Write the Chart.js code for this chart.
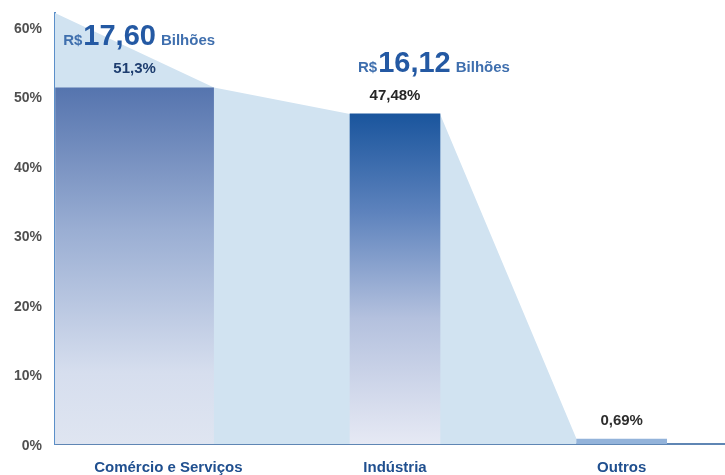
<!DOCTYPE html>
<html>
<head>
<meta charset="utf-8">
<script src="https://cdn.jsdelivr.net/npm/chart.js@4"></script>
<style>
  html, body { margin: 0; padding: 0; background: #fff; }
  #wrap { width: 725px; height: 475px; }
</style>
</head>
<body>
<div id="wrap"><canvas id="myChart" width="725" height="475"></canvas></div>
<script>
// data
const categories = ['Comércio e Serviços', 'Indústria', 'Outros'];
const shares = [51.3, 47.48, 0.69];          // % of total
const amounts = ['17,60', '16,12', null];    // R$ bilhões
const yTicks = [0, 10, 20, 30, 40, 50, 60];
const yMax = 62;

const FONT = "'Liberation Sans', Arial, Helvetica, sans-serif";

function pctText(v) {
    return v.toString().replace('.', ',') + '%';
}

function barGradient(ctx, stops) {
    const chart = ctx.chart;
    if (!chart.chartArea) return stops[0][1];
    const y = chart.scales.y;
    const top = y.getPixelForValue(shares[ctx.dataIndex]);
    const g = chart.ctx.createLinearGradient(0, top, 0, y.getPixelForValue(0));
    stops.forEach(s => g.addColorStop(s[0], s[1]));
    return g;
}

const firstStops = [[0, '#5574ae'], [0.4, '#9aaed3'], [0.8, '#d6deee'], [1, '#dfe5f1']];
const secondStops = [[0, '#1a559d'], [0.3, '#5e83bd'], [0.62, '#b4c1de'], [1, '#e6e9f4']];

// the x axis runs a little past the right edge of the picture
const stretchX = {
    id: 'stretchX',
    afterLayout(chart) {
        const x = chart.scales.x;
        x.right += 10;
        x.width += 10;
        x.configure();
    }
};

// light blue shape joining the bar tops, drawn behind the bars
const areaPlugin = {
    id: 'area',
    beforeDatasetsDraw(chart) {
        const area = chart.chartArea;
        const b1 = chart.getDatasetMeta(0).data[0];
        const b2 = chart.getDatasetMeta(2).data[1];
        const b3 = chart.getDatasetMeta(2).data[2];
        if (!b1 || !b2 || !b3) return;
        const ctx = chart.ctx;
        ctx.save();
        ctx.fillStyle = '#d1e3f1';
        ctx.beginPath();
        ctx.moveTo(area.left, area.top);
        ctx.lineTo(b1.x + b1.width / 2, b1.y);
        ctx.lineTo(b2.x - b2.width / 2, b2.y);
        ctx.lineTo(b2.x + b2.width / 2, b2.y);
        ctx.lineTo(b3.x - b3.width / 2, b3.y);
        ctx.lineTo(b3.x - b3.width / 2, b3.base);
        ctx.lineTo(area.left, b1.base);
        ctx.closePath();
        ctx.fill();
        ctx.restore();
    }
};

// percent + R$ labels above the bars
const labelPlugin = {
    id: 'labels',
    afterDatasetsDraw(chart) {
        const ctx = chart.ctx;
        const bars = [
            chart.getDatasetMeta(0).data[0],
            chart.getDatasetMeta(2).data[1],
            chart.getDatasetMeta(2).data[2]
        ];
        const pctColors = ['#1d3d6f', '#262626', '#2e2e2e'];
        ctx.save();
        ctx.textBaseline = 'alphabetic';
        bars.forEach((bar, i) => {
            if (!bar) return;
            const base = bar.y - 14;
            ctx.textAlign = 'center';
            ctx.font = 'bold 15px ' + FONT;
            ctx.fillStyle = pctColors[i];
            ctx.fillText(pctText(shares[i]), bar.x, base);

            if (!amounts[i]) return;
            const y = base - 28;
            let x = bar.x - bar.width / 2 + 8;
            ctx.textAlign = 'left';
            ctx.font = 'bold 15px ' + FONT;
            ctx.fillStyle = '#3f6fae';
            ctx.fillText('R$', x, y);
            x += ctx.measureText('R$').width + 1;
            ctx.font = 'bold 29px ' + FONT;
            ctx.fillStyle = '#2459a3';
            ctx.fillText(amounts[i], x, y);
            x += ctx.measureText(amounts[i]).width + 5;
            ctx.font = 'bold 15px ' + FONT;
            ctx.fillStyle = '#3f6fae';
            ctx.fillText('Bilhões', x, y);
        });
        ctx.restore();
    }
};

new Chart(document.getElementById('myChart').getContext('2d'), {
    type: 'bar',
    data: {
        labels: categories,
        datasets: [
            {
                // first bar sits flush on the y axis: grouped with an empty
                // dataset so it takes the left half of its category
                data: shares.map((v, i) => i === 0 ? v : null),
                grouped: true,
                categoryPercentage: 0.596,
                barPercentage: 2.35,
                backgroundColor: ctx => barGradient(ctx, firstStops),
                borderWidth: 0
            },
            {
                data: categories.map(() => null),
                grouped: true
            },
            {
                data: shares.map((v, i) => i === 0 ? null : v),
                grouped: false,
                barThickness: 90,
                backgroundColor: ctx => ctx.dataIndex === 2 ? '#93b3da' : barGradient(ctx, secondStops),
                borderWidth: 0
            }
        ]
    },
    options: {
        responsive: false,
        animation: false,
        layout: { padding: { top: 13, left: 0, right: 0, bottom: 0 } },
        plugins: {
            legend: { display: false },
            tooltip: { enabled: false }
        },
        scales: {
            x: {
                grid: { display: false, drawTicks: false },
                border: { display: true, color: '#5f86b4', width: 2 },
                ticks: {
                    padding: 15,
                    color: '#1f4f8f',
                    font: { family: FONT, size: 15, weight: 'bold' }
                },
                afterFit: scale => { scale.height = 31; }
            },
            y: {
                min: 0,
                max: yMax,
                grid: { display: false, drawTicks: false },
                border: { display: true, color: '#5b8fc9', width: 2 },
                afterBuildTicks: scale => { scale.ticks = yTicks.map(v => ({ value: v })); },
                ticks: {
                    padding: 13,
                    labelOffset: 2,
                    color: '#505050',
                    font: { family: FONT, size: 14, weight: 'bold' },
                    callback: v => v + '%'
                },
                afterFit: scale => {
                    scale.width = 55;
                    scale.paddingTop = 0;
                    scale.paddingBottom = 0;
                }
            }
        }
    },
    plugins: [stretchX, areaPlugin, labelPlugin]
});
</script>
</body>
</html>
